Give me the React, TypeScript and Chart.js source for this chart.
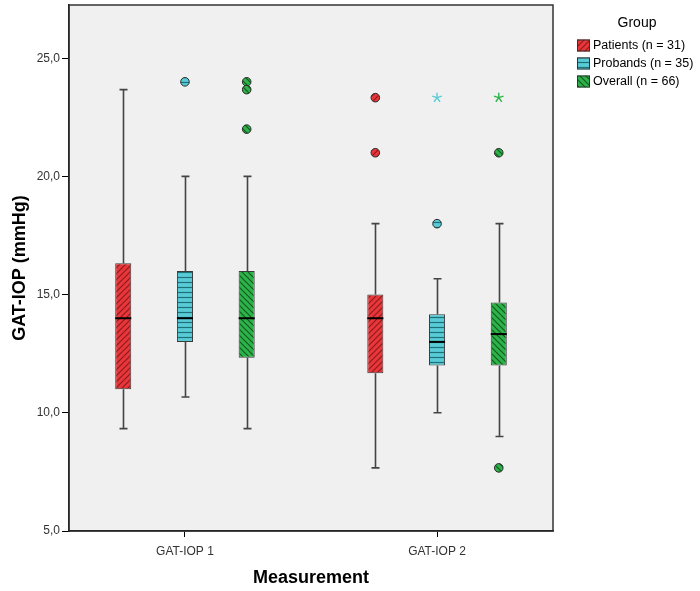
import React, { useEffect, useRef } from 'react';
import { Chart, registerables } from 'chart.js';

Chart.register(...registerables);

// ---------- DATA ----------
const categories = ['GAT-IOP 1', 'GAT-IOP 2'];
const groupNames = ['Patients (n = 31)', 'Probands (n = 35)', 'Overall (n = 66)'];
const legendTitle = 'Group';
const xTitle = 'Measurement';
const yTitle = 'GAT-IOP (mmHg)';
const yTicks = [5, 10, 15, 20, 25];

// values per measurement [GAT-IOP 1, GAT-IOP 2]
const patientsMin = [9.33, 7.67];
const patientsQ1 = [11, 11.67];
const patientsMedian = [14, 14];
const patientsQ3 = [16.33, 15];
const patientsMax = [23.67, 18];
const patientsOutliers = [[], [23.33, 21]];
const patientsExtremes = [[], []];

const probandsMin = [10.67, 10];
const probandsQ1 = [13, 12];
const probandsMedian = [14, 13];
const probandsQ3 = [16, 14.17];
const probandsMax = [20, 15.67];
const probandsOutliers = [[24], [18]];
const probandsExtremes = [[], [23.33]];

const overallMin = [9.33, 9];
const overallQ1 = [12.33, 12];
const overallMedian = [14, 13.33];
const overallQ3 = [16, 14.67];
const overallMax = [20, 18];
const overallOutliers = [[24, 23.67, 22], [21, 7.67]];
const overallExtremes = [[], [23.33]];

const FONT = "'Liberation Sans', Arial, sans-serif";

type Kind = 'fwd' | 'back' | 'horiz';

function makePattern(base: string, stripe: string, kind: Kind): CanvasPattern | string {
  const s = kind === 'horiz' ? 5 : 6;
  const c = document.createElement('canvas');
  c.width = s;
  c.height = s;
  const g = c.getContext('2d');
  if (!g) return base;
  g.fillStyle = base;
  g.fillRect(0, 0, s, s);
  g.strokeStyle = stripe;
  g.lineWidth = 1.2;
  g.beginPath();
  if (kind === 'horiz') {
    g.moveTo(0, 2.5);
    g.lineTo(s, 2.5);
  } else if (kind === 'fwd') {
    g.moveTo(-1, s + 1);
    g.lineTo(s + 1, -1);
    g.moveTo(-1, 1);
    g.lineTo(1, -1);
    g.moveTo(s - 1, s + 1);
    g.lineTo(s + 1, s - 1);
  } else {
    g.moveTo(-1, -1);
    g.lineTo(s + 1, s + 1);
    g.moveTo(-1, s - 1);
    g.lineTo(1, s + 1);
    g.moveTo(s - 1, -1);
    g.lineTo(s + 1, 1);
  }
  g.stroke();
  const p = g.createPattern(c, 'repeat');
  return p || base;
}

export default function App() {
  const ref = useRef<HTMLCanvasElement | null>(null);

  useEffect(() => {
    const canvas = ref.current;
    if (!canvas) return;

    const groups = [
      {
        name: groupNames[0], min: patientsMin, q1: patientsQ1, med: patientsMedian, q3: patientsQ3, max: patientsMax,
        out: patientsOutliers, ext: patientsExtremes,
        fill: makePattern('#e8363a', '#8e1b1d', 'fwd'), solid: '#e8363a',
      },
      {
        name: groupNames[1], min: probandsMin, q1: probandsQ1, med: probandsMedian, q3: probandsQ3, max: probandsMax,
        out: probandsOutliers, ext: probandsExtremes,
        fill: makePattern('#58cbd6', '#1f6f78', 'horiz'), solid: '#58cbd6',
      },
      {
        name: groupNames[2], min: overallMin, q1: overallQ1, med: overallMedian, q3: overallQ3, max: overallMax,
        out: overallOutliers, ext: overallExtremes,
        fill: makePattern('#2db34a', '#135a21', 'back'), solid: '#2db34a',
      },
    ];

    const boxPlugin = {
      id: 'boxParts',
      beforeDraw(chart: any) {
        const { ctx, chartArea: a } = chart;
        ctx.save();
        ctx.fillStyle = '#f0f0f0';
        ctx.fillRect(a.left, a.top, a.right - a.left, a.bottom - a.top);
        ctx.restore();
      },
      beforeDatasetsDraw(chart: any) {
        const { ctx } = chart;
        const yS = chart.scales.y;
        ctx.save();
        ctx.strokeStyle = '#444';
        ctx.lineWidth = 1.6;
        groups.forEach((g, di) => {
          const meta = chart.getDatasetMeta(di);
          meta.data.forEach((el: any, i: number) => {
            const x = Math.round(el.x) + 0.5;
            const cap = 4;
            const yMax = yS.getPixelForValue(g.max[i]);
            const yQ3 = yS.getPixelForValue(g.q3[i]);
            const yQ1 = yS.getPixelForValue(g.q1[i]);
            const yMin = yS.getPixelForValue(g.min[i]);
            ctx.beginPath();
            ctx.moveTo(x, yQ3);
            ctx.lineTo(x, yMax);
            ctx.moveTo(x - cap, yMax);
            ctx.lineTo(x + cap, yMax);
            ctx.moveTo(x, yQ1);
            ctx.lineTo(x, yMin);
            ctx.moveTo(x - cap, yMin);
            ctx.lineTo(x + cap, yMin);
            ctx.stroke();
          });
        });
        ctx.restore();
      },
      afterDatasetsDraw(chart: any) {
        const { ctx } = chart;
        const yS = chart.scales.y;
        ctx.save();
        groups.forEach((g, di) => {
          const meta = chart.getDatasetMeta(di);
          meta.data.forEach((el: any, i: number) => {
            const x = el.x;
            const w = el.width;
            const ym = yS.getPixelForValue(g.med[i]);
            ctx.strokeStyle = '#000';
            ctx.lineWidth = 2;
            ctx.beginPath();
            ctx.moveTo(x - w / 2, ym);
            ctx.lineTo(x + w / 2, ym);
            ctx.stroke();
            g.out[i].forEach((v: number) => {
              const yy = yS.getPixelForValue(v);
              ctx.beginPath();
              ctx.arc(x, yy, 4.3, 0, Math.PI * 2);
              ctx.fillStyle = g.fill as any;
              ctx.fill();
              ctx.strokeStyle = '#2a2a2a';
              ctx.lineWidth = 1;
              ctx.stroke();
            });
            g.ext[i].forEach((v: number) => {
              const yy = yS.getPixelForValue(v);
              ctx.strokeStyle = g.solid;
              ctx.lineWidth = 1.4;
              ctx.beginPath();
              for (let k = 0; k < 5; k++) {
                const ang = -Math.PI / 2 + (k * 2 * Math.PI) / 5;
                ctx.moveTo(x, yy);
                ctx.lineTo(x + 5 * Math.cos(ang), yy + 5 * Math.sin(ang));
              }
              ctx.stroke();
            });
          });
        });
        ctx.restore();
      },
      afterDraw(chart: any) {
        const { ctx, chartArea: a } = chart;
        ctx.save();
        ctx.strokeStyle = '#333';
        ctx.lineWidth = 1.5;
        ctx.strokeRect(a.left, a.top, a.right - a.left, a.bottom - a.top);
        // legend
        ctx.fillStyle = '#000';
        ctx.textAlign = 'center';
        ctx.textBaseline = 'middle';
        ctx.font = `14px ${FONT}`;
        ctx.fillText(legendTitle, 637, 23);
        ctx.textAlign = 'left';
        ctx.font = `12.5px ${FONT}`;
        groups.forEach((g, i) => {
          const cy = 45.5 + i * 18;
          ctx.fillStyle = g.fill as any;
          ctx.fillRect(577, cy - 6, 13, 12);
          ctx.strokeStyle = '#333';
          ctx.lineWidth = 1;
          ctx.strokeRect(577.5, cy - 5.5, 12, 11);
          ctx.fillStyle = '#000';
          ctx.fillText(g.name, 593, cy + 0.5);
        });
        ctx.restore();
      },
    };

    const chart = new Chart(canvas, {
      type: 'bar',
      data: {
        datasets: groups.map((g) => ({
          label: g.name,
          data: categories.map((_, i) => ({ x: i, y: [g.q1[i], g.q3[i]] })),
          backgroundColor: g.fill as any,
          borderColor: '#3a3a3a',
          borderWidth: 1,
          borderSkipped: false,
          categoryPercentage: 0.7345,
          barPercentage: 0.26,
        })),
      },
      options: {
        responsive: false,
        animation: false,
        events: [],
        layout: { padding: { left: 0, top: 5, right: 147, bottom: 0 } },
        plugins: {
          legend: { display: false },
          tooltip: { enabled: false },
        },
        scales: {
          x: {
            type: 'linear',
            min: -0.46,
            max: 1.46,
            offset: false,
            afterBuildTicks: (scale: any) => {
              scale.ticks = categories.map((_, i) => ({ value: i }));
            },
            afterFit: (scale: any) => {
              scale.height = 60;
              scale.paddingLeft = 0;
              scale.paddingRight = 0;
            },
            ticks: {
              autoSkip: false,
              maxRotation: 0,
              color: '#333',
              padding: 7,
              font: { family: FONT, size: 12 },
              callback: (v: any) => categories[Number(v)] ?? '',
            },
            grid: {
              drawOnChartArea: false,
              drawTicks: true,
              tickLength: 6,
              color: '#000',
              offset: false,
            },
            border: { display: true, color: '#000', width: 1.5 },
            title: {
              display: true,
              text: xTitle,
              color: '#000',
              font: { family: FONT, size: 18, weight: 'bold' },
              padding: { top: 0, bottom: 2 },
            },
          },
          y: {
            type: 'linear',
            min: 5,
            max: 27.25,
            afterBuildTicks: (scale: any) => {
              scale.ticks = yTicks.map((v) => ({ value: v }));
            },
            afterFit: (scale: any) => {
              scale.width = 69;
              scale.paddingTop = 0;
              scale.paddingBottom = 0;
            },
            ticks: {
              color: '#333',
              padding: 2,
              font: { family: FONT, size: 12 },
              callback: (v: any) => Number(v).toFixed(1).replace('.', ','),
            },
            grid: {
              drawOnChartArea: false,
              drawTicks: true,
              tickLength: 7,
              color: '#000',
            },
            border: { display: true, color: '#000', width: 1.5 },
            title: {
              display: true,
              text: yTitle,
              color: '#000',
              font: { family: FONT, size: 18, weight: 'bold' },
              padding: { top: 9, bottom: 0 },
            },
          },
        },
      } as any,
      plugins: [boxPlugin],
    });

    return () => chart.destroy();
  }, []);

  return (
    <div style={{ position: 'fixed', left: 0, top: 0, width: 700, height: 591, background: '#fff' }}>
      <canvas ref={ref} width={700} height={591} style={{ display: 'block' }} />
    </div>
  );
}
